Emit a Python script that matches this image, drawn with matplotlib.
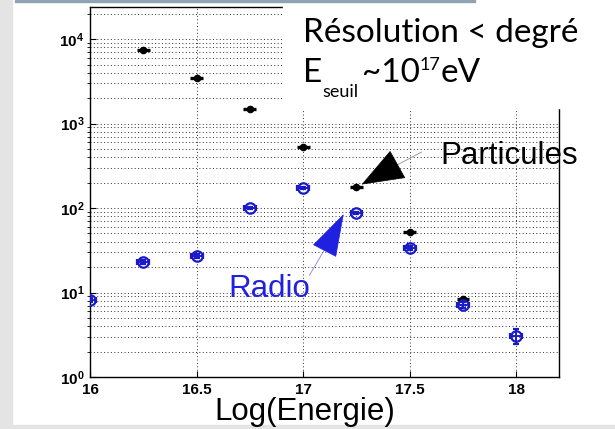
import matplotlib.pyplot as plt
import matplotlib.patches as patches
import numpy as np
from matplotlib.ticker import LogLocator, NullFormatter

# energies (log10 eV)
part_x = [16.25, 16.5, 16.75, 17.0, 17.25, 17.5, 17.75]
part_y = [7400, 3450, 1480, 530, 177, 52, 8.4]
part_yerr = [250, 120, 50, 18, 6, 2, 0.4]

radio_x = [16.0, 16.25, 16.5, 16.75, 17.0, 17.25, 17.5, 17.75, 18.0]
radio_y = [8.1, 23, 27, 100, 172, 87, 33.6, 7.1, 3.05]
radio_yerr_lo = [0.4, 1.0, 1.2, 3, 6, 3, 1.5, 0.6, 0.6]
radio_yerr_hi = [0.4, 1.0, 1.2, 3, 6, 3, 1.5, 0.7, 0.65]

xticks = [16, 16.5, 17, 17.5, 18]
xticklabels = ["16", "16.5", "17", "17.5", "18"]

W, H = 615, 429
fig = plt.figure(figsize=(W / 100, H / 100), dpi=100)
fig.patch.set_facecolor("white")

# slide background strips
fig.add_artist(patches.Rectangle((0, 0), 12 / W, 1, transform=fig.transFigure,
                                 color="#e4e4e4", zorder=-5))
fig.add_artist(patches.Rectangle((0, 0), 1, 4 / H, transform=fig.transFigure,
                                 color="#e4e4e4", zorder=-5))

ax = fig.add_axes([90 / W, 1 - 377 / H, 469 / W, 370 / H])
ax.set_yscale("log")
ax.set_xlim(16, 18.2)
ax.set_ylim(1, 2.4e4)

ax.errorbar(part_x, part_y, yerr=part_yerr, xerr=0.03, fmt="o", color="black",
            ms=4.5, elinewidth=2.4, capsize=0, zorder=4)
ax.errorbar(radio_x, radio_y, yerr=[radio_yerr_lo, radio_yerr_hi], xerr=0.028,
            fmt="o", color="#1a1ac8", mfc="none", ms=7.5, mew=1.6,
            elinewidth=1.4, capsize=2.5, capthick=1.4, zorder=5)

ax.set_xticks(xticks)
ax.set_xticklabels(xticklabels)
ax.yaxis.set_major_locator(LogLocator(base=10, numticks=10))
ax.yaxis.set_minor_locator(LogLocator(base=10, subs=np.arange(2, 10), numticks=50))
ax.yaxis.set_minor_formatter(NullFormatter())
for lab in ax.get_xticklabels() + ax.get_yticklabels():
    lab.set_fontfamily("Liberation Sans")
    lab.set_fontweight("bold")
    lab.set_fontsize(11)
ax.tick_params(direction="in", length=4, width=0.8)
ax.tick_params(axis="x", pad=4)
ax.tick_params(axis="y", pad=4)
ax.tick_params(which="minor", length=2)

ax.grid(True, which="major", axis="both", linestyle=(0, (1, 2.5)), color="#303030", lw=0.7)
ax.grid(True, which="minor", axis="y", linestyle=(0, (1, 2.5)), color="#303030", lw=0.7)
ax.set_axisbelow(True)
for s in ax.spines.values():
    s.set_linewidth(1.0)

# arrows
ax.annotate("", xy=(17.274, 190), xytext=(17.396, 282),
            arrowprops=dict(arrowstyle="-|>,head_length=1.6,head_width=0.6",
                            color="black", lw=0.5, mutation_scale=18, shrinkA=0, shrinkB=0))
ax.plot([17.396, 17.555], [282, 460], color="#909090", lw=0.6)
ax.annotate("", xy=(17.19, 85), xytext=(17.124, 40.7),
            arrowprops=dict(arrowstyle="-|>,head_length=1.6,head_width=0.5",
                            color="#2020e0", lw=0.5, mutation_scale=18, shrinkA=0, shrinkB=0))
ax.plot([17.124, 17.03], [40.7, 16.1], color="#8080f0", lw=0.6)

fig.text(440 / W, 1 - 164 / H, "Particules", fontfamily="Liberation Sans",
         fontsize=22.5, color="black", va="baseline")
fig.text(228 / W, 1 - 297 / H, "Radio", fontfamily="Liberation Sans",
         fontsize=22.5, color="#2020e0", va="baseline")
fig.text(305 / W, 1 - 420 / H, "Log(Energie)", fontfamily="Liberation Sans",
         fontsize=22.5, color="black", va="baseline", ha="center")

# white box hiding top-right corner of the plot
fig.add_artist(patches.Rectangle((283 / W, 1 - 108 / H), 1, 108 / H,
                                 transform=fig.transFigure, color="white", zorder=10))
fig.add_artist(patches.Rectangle((15 / W, 1 - 2 / H), 460 / W, 2 / H,
                                 transform=fig.transFigure, color="#8fa3b0", zorder=11))

tf = dict(fontfamily="Lato", color="black", va="baseline", zorder=12)
fig.text(303 / W, 1 - 42 / H, "Résolution < degré", fontsize=24, **tf)
fig.text(303 / W, 1 - 82 / H, "E", fontsize=24, **tf)
fig.text(322 / W, 1 - 97 / H, "seuil", fontsize=13, **tf)
fig.text(362 / W, 1 - 82 / H, "~10", fontsize=24, **tf)
fig.text(420 / W, 1 - 70 / H, "17", fontsize=13, **tf)
fig.text(441 / W, 1 - 82 / H, "eV", fontsize=24, **tf)

fig.savefig("out.png", dpi=100)
